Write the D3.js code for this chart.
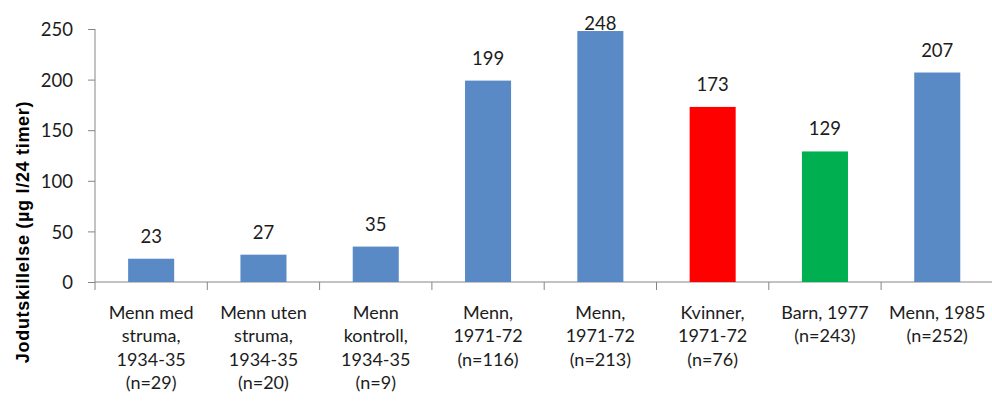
<!DOCTYPE html>
<head>
<meta charset="UTF-8">
<title>Jodutskillelse</title>
<script src="https://cdnjs.cloudflare.com/ajax/libs/d3/7.8.5/d3.min.js"></script>
<style>
body { margin:0; background:#fff; }
text { font-family: Lato, "Open Sans", sans-serif; fill:#1c1c1c; }
.axis path, .axis line { stroke:#868686; }
text.ytitle { font-family:"Liberation Sans", Arial, sans-serif; font-weight:bold; font-size:18px; letter-spacing:0.7px; fill:#000; }
</style>
</head>
<body>
<div id="chart"></div>
<script>
// data
var labels = [
  ["Menn med", "struma,", "1934-35", "(n=29)"],
  ["Menn uten", "struma,", "1934-35", "(n=20)"],
  ["Menn", "kontroll,", "1934-35", "(n=9)"],
  ["Menn,", "1971-72", "(n=116)"],
  ["Menn,", "1971-72", "(n=213)"],
  ["Kvinner,", "1971-72", "(n=76)"],
  ["Barn, 1977", "(n=243)"],
  ["Menn, 1985", "(n=252)"]
];
var values = [23, 27, 35, 199, 248, 173, 129, 207];
var colors = ["#5a8ac6", "#5a8ac6", "#5a8ac6", "#5a8ac6", "#5a8ac6", "#ff0000", "#00b050", "#5a8ac6"];
var yTicks = [0, 50, 100, 150, 200, 250];

var width = 992, height = 404;
var svg = d3.select("#chart").append("svg").attr("width", width).attr("height", height);

var idx = d3.range(values.length);
var x = d3.scaleBand().domain(idx).range([95, 993.4]).padding(0);
var y = d3.scaleLinear().domain([0, 250]).range([282, 29]);
var bw = x.bandwidth() * 0.41;

// y axis
var yAxis = svg.append("g").attr("class", "axis").attr("transform", "translate(95,0)")
  .call(d3.axisLeft(y).tickValues(yTicks).tickSize(7).tickPadding(15).tickSizeOuter(0));
yAxis.select(".domain").remove();
yAxis.append("line").attr("x1", 0).attr("x2", 0).attr("y1", y(250)).attr("y2", 290);
yAxis.selectAll("text").style("font-size", "18.5px").attr("dy", "0.36em").style("fill", "#1c1c1c");

// x axis line + boundary ticks
var xg = svg.append("g").attr("class", "axis");
xg.append("line").attr("x1", 95).attr("x2", width).attr("y1", y(0)).attr("y2", y(0));
xg.selectAll(".tk").data(idx.slice(1)).enter().append("line")
  .attr("x1", function(d){return x(d);}).attr("x2", function(d){return x(d);})
  .attr("y1", y(0)).attr("y2", y(0) + 8);

// bars
svg.selectAll(".bar").data(values).enter().append("rect")
  .attr("x", function(d,i){return x(i) + (x.bandwidth() - bw) / 2;})
  .attr("y", function(d){return y(d);})
  .attr("width", bw)
  .attr("height", function(d){return y(0) - y(d);})
  .attr("fill", function(d,i){return colors[i];});

// value labels (clamped at the top like excel does)
svg.selectAll(".val").data(values).enter().append("text")
  .attr("x", function(d,i){return x(i) + x.bandwidth() / 2;})
  .attr("y", function(d){return Math.max(y(d) - 16, 29.5);})
  .attr("text-anchor", "middle")
  .style("font-size", "18.5px")
  .text(function(d){return d;});

// category labels
var cat = svg.selectAll(".cat").data(labels).enter().append("text")
  .attr("text-anchor", "middle")
  .style("font-size", "18px");
cat.selectAll("tspan").data(function(d,i){return d.map(function(s){return {s:s, i:i};});}).enter().append("tspan")
  .attr("x", function(d){return x(d.i) + x.bandwidth() / 2;})
  .attr("y", function(d,j){return 319 + j * 23.4;})
  .text(function(d){return d.s;});

// y title
svg.append("text").attr("class", "ytitle")
  .attr("transform", "translate(29,232) rotate(-90)")
  .attr("text-anchor", "middle")
  .text("Jodutskillelse (µg l/24 timer)");
</script>
</body>
</html>
